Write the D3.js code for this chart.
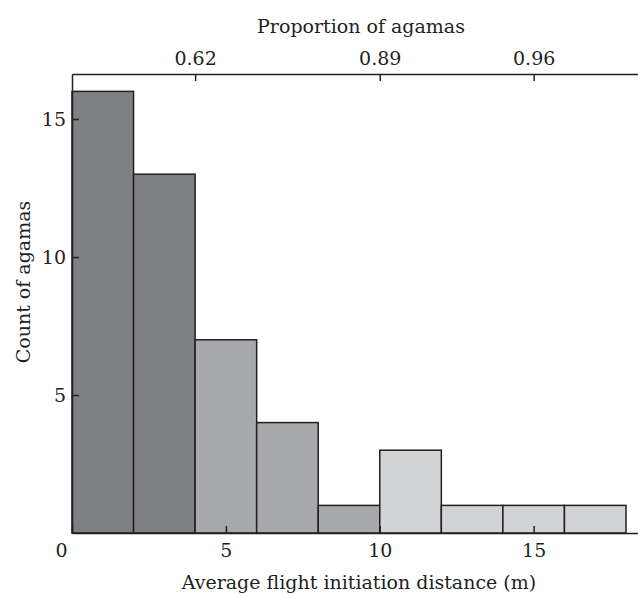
<!DOCTYPE html>
<html><head><meta charset="utf-8">
<script src="https://cdn.jsdelivr.net/npm/d3@7"></script>
<style>body{margin:0;background:#fff}svg{display:block}text{font-family:"DejaVu Serif",serif;fill:#231f20}</style>
</head><body>
<script>
const binStarts = [0, 2, 4, 6, 8, 10, 12, 14, 16];
const binWidth = 2;
const counts = [16, 13, 7, 4, 1, 3, 1, 1, 1];
const shadeGroup = [0, 0, 1, 1, 1, 2, 2, 2, 2];
const shadeColors = ["#7f8084", "#a7a8ab", "#d2d3d5"];
const bottomTicks = [0, 5, 10, 15];
const leftTicks = [5, 10, 15];
const topTickPositions = [4, 10, 15];
const topTickLabels = ["0.62", "0.89", "0.96"];

const W = 638, H = 594;
const svg = d3.select("body").append("svg").attr("width", W).attr("height", H);
const x = d3.scaleLinear().domain([0, 18.39]).range([72, 638]);
const y = d3.scaleLinear().domain([0, 16.63]).range([533, 74]);

// bars
svg.append("g").selectAll("rect").data(binStarts).join("rect")
  .attr("x", (d) => x(d))
  .attr("width", (d) => x(d + binWidth) - x(d))
  .attr("y", (d, i) => y(counts[i]))
  .attr("height", (d, i) => y(0) - y(counts[i]))
  .attr("fill", (d, i) => shadeColors[shadeGroup[i]])
  .attr("stroke", "#231f20").attr("stroke-width", 1.5);

const fs = 19;
// bottom axis
const bx = svg.append("g").attr("transform", `translate(0,${y(0)})`)
  .call(d3.axisBottom(x).tickValues(bottomTicks).tickSizeInner(-7).tickSizeOuter(0).tickFormat(d3.format("d")));
bx.select(".domain").attr("stroke", "#231f20").attr("stroke-width", 1.5);
bx.selectAll(".tick line").attr("stroke", "#231f20").attr("stroke-width", 1.5);
bx.selectAll(".tick text").attr("y", 10).attr("dy", "0.73em").attr("font-size", fs).attr("fill", "#231f20")
  .attr("dx", (d) => d === 0 ? -11 : 0);

// left axis
const lx = svg.append("g").attr("transform", `translate(${x(0)},0)`)
  .call(d3.axisLeft(y).tickValues(leftTicks).tickSizeInner(-7).tickSizeOuter(0).tickFormat(d3.format("d")));
lx.select(".domain").attr("stroke", "#231f20").attr("stroke-width", 1.5);
lx.selectAll(".tick line").attr("stroke", "#231f20").attr("stroke-width", 1.5);
lx.selectAll(".tick text").attr("x", -6).attr("dy", "0.36em").attr("font-size", fs).attr("fill", "#231f20");

// top axis
const tx = svg.append("g").attr("transform", `translate(0,${y.range()[1]})`)
  .call(d3.axisTop(x).tickValues(topTickPositions).tickSizeInner(-7).tickSizeOuter(0)
    .tickFormat((d, i) => topTickLabels[i]));
tx.select(".domain").attr("stroke", "#231f20").attr("stroke-width", 1.5);
tx.selectAll(".tick line").attr("stroke", "#231f20").attr("stroke-width", 1.5);
tx.selectAll(".tick text").attr("y", -9).attr("dy", 0).attr("font-size", fs).attr("fill", "#231f20");

// titles
svg.append("text").attr("x", 361).attr("y", 33).attr("text-anchor", "middle").attr("font-size", fs)
  .text("Proportion of agamas");
svg.append("text").attr("x", 359).attr("y", 589).attr("text-anchor", "middle").attr("font-size", fs)
  .text("Average flight initiation distance (m)");
svg.append("text").attr("transform", "translate(30,282) rotate(-90)").attr("text-anchor", "middle").attr("font-size", fs)
  .text("Count of agamas");
</script>
</body></html>
